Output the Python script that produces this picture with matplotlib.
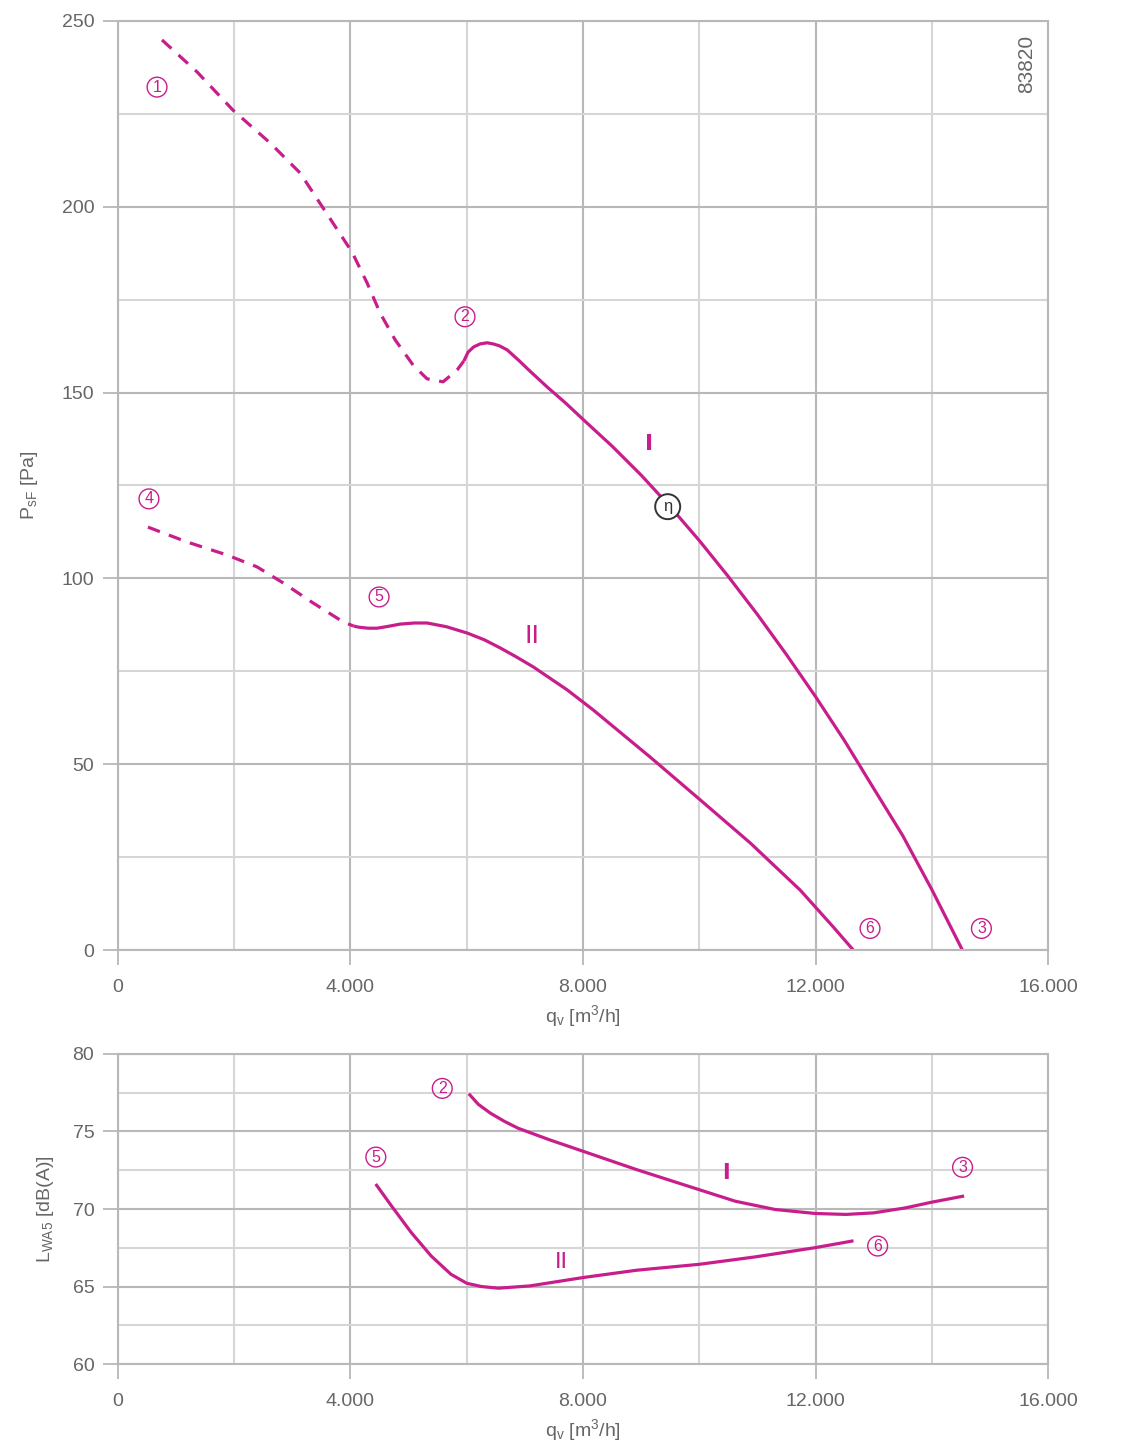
import matplotlib
matplotlib.use("Agg")
import matplotlib.pyplot as plt
from matplotlib.ticker import MultipleLocator, FuncFormatter

plt.rcParams['font.family'] = ['Liberation Sans', 'DejaVu Sans']
plt.rcParams['mathtext.fontset'] = 'custom'
plt.rcParams['mathtext.rm'] = 'Liberation Sans'
plt.rcParams['mathtext.default'] = 'regular'

# --- pressure curves (top chart) ---
p1_dash_q = [757, 1360, 1979, 2616, 3133, 3528, 4027, 4286, 4510, 4768, 5077,
             5318, 5594, 5835, 5950]
p1_dash_p = [244.9, 236.3, 226.0, 217.2, 209.1, 199.7, 187.8, 179.5, 171.4,
             164.2, 157.4, 153.7, 152.9, 156.1, 158.5]
p1_q = [5950, 6024, 6120, 6231, 6350, 6454, 6560, 6695, 6900, 7100, 7384,
        7700, 8000, 8500, 9000, 9500, 10000, 10500, 11000, 11500, 12000,
        12500, 13000, 13500, 14000, 14527]
p1_p = [158.5, 160.9, 162.3, 163.1, 163.4, 163.1, 162.6, 161.5, 158.6, 155.6,
        151.5, 147.2, 142.8, 135.6, 127.8, 119.3, 110.2, 100.5, 90.3, 79.5,
        68.2, 56.3, 43.5, 30.8, 16.3, 0.0]

p2_dash_q = [516, 1188, 1876, 2392, 2840, 3356, 3873, 4050]
p2_dash_p = [113.8, 109.8, 106.3, 103.1, 98.8, 93.4, 88.3, 87.2]
p2_q = [4050, 4131, 4300, 4458, 4650, 4854, 5100, 5318, 5650, 6007, 6300,
        6575, 6850, 7143, 7728, 8176, 9157, 10017, 10878, 11738, 12306, 12650]
p2_p = [87.2, 86.9, 86.6, 86.6, 87.1, 87.7, 88.0, 88.0, 87.0, 85.3, 83.5,
        81.3, 78.9, 76.2, 70.0, 64.6, 51.9, 40.4, 28.8, 16.1, 6.2, 0.0]

# --- sound power curves (bottom chart) ---
l1_q = [6054, 6200, 6408, 6650, 6884, 7427, 8005, 8923, 9996, 10622, 11302,
        12001, 12525, 13000, 13544, 14000, 14530]
l1_db = [77.36, 76.75, 76.18, 75.65, 75.21, 74.46, 73.72, 72.54, 71.25, 70.50,
         69.97, 69.71, 69.65, 69.75, 70.07, 70.44, 70.82]
l2_q = [4450, 4709, 5048, 5388, 5728, 6000, 6250, 6544, 7088, 8005, 8923,
        9996, 10963, 12001, 12627]
l2_db = [71.53, 70.18, 68.47, 66.97, 65.79, 65.21, 65.00, 64.89, 65.04, 65.58,
         66.05, 66.43, 66.91, 67.51, 67.93]

# point labels (circled numbers)
top_marks = ['1', '2', '3', '4', '5', '6']
top_mark_q = [672, 5970, 14854, 533, 4492, 12938]
top_mark_p = [232.2, 170.4, 5.8, 121.4, 95.0, 5.8]
top_curve_names = ['I', 'II']
top_curve_q = [9141, 7126]
top_curve_p = [136.3, 84.5]
eta_q, eta_p = 9457, 119.3

bot_marks = ['2', '3', '5', '6']
bot_mark_q = [5579, 14530, 4436, 13069]
bot_mark_db = [77.78, 72.69, 73.35, 67.61]
bot_curve_names = ['I', 'II']
bot_curve_q = [10452, 7631]
bot_curve_db = [72.3, 66.58]

MAG = '#c81e8c'
GRID_MAJ = '#b8b8b8'
GRID_MIN = '#d6d6d6'
TXT = '#666666'
LW = 2.3
DASH = (0, (4, 3))


def style_axes(ax, ymin, ymax, ymaj, ymin_step):
    ax.set_xlim(0, 16000)
    ax.set_ylim(ymin, ymax)
    ax.xaxis.set_major_locator(MultipleLocator(4000))
    ax.xaxis.set_minor_locator(MultipleLocator(2000))
    ax.yaxis.set_major_locator(MultipleLocator(ymaj))
    ax.yaxis.set_minor_locator(MultipleLocator(ymin_step))
    ax.xaxis.set_major_formatter(
        FuncFormatter(lambda v, p: f"{v:,.0f}".replace(',', '.')))
    ax.grid(which='major', color=GRID_MAJ, lw=1.5)
    ax.grid(which='minor', color=GRID_MIN, lw=1.5)
    ax.set_axisbelow(True)
    for s in ax.spines.values():
        s.set_color(GRID_MAJ)
        s.set_linewidth(1.5)
    ax.tick_params(which='major', length=11, width=1.3, color=GRID_MAJ,
                   labelcolor=TXT, labelsize=14, pad=6)
    ax.tick_params(axis='x', which='major', pad=10)
    ax.tick_params(which='minor', length=0)
    ax.set_xlabel('q$_v$ [m$^3$/h]', color=TXT, fontsize=14, labelpad=5)


def circled(ax, q, v, s, color):
    ax.text(q, v, s, color=color, fontsize=11.5, ha='center', va='center',
            zorder=5,
            bbox=dict(boxstyle='circle,pad=0.15', fc='none', ec=color, lw=1.0))


fig = plt.figure(figsize=(11.42, 14.46), dpi=100)
ax1 = fig.add_axes([0.1033, 0.343, 0.8144, 0.6425])
ax2 = fig.add_axes([0.1033, 0.0567, 0.8144, 0.2144])

# top chart
style_axes(ax1, 0, 250, 50, 25)
ax1.plot(p1_dash_q, p1_dash_p, color=MAG, lw=LW, ls=DASH)
ax1.plot(p1_q, p1_p, color=MAG, lw=LW, solid_capstyle='butt')
ax1.plot(p2_dash_q, p2_dash_p, color=MAG, lw=LW, ls=DASH)
ax1.plot(p2_q, p2_p, color=MAG, lw=LW, solid_capstyle='butt')
for m, q, p in zip(top_marks, top_mark_q, top_mark_p):
    circled(ax1, q, p, m, MAG)
ax1.text(top_curve_q[0], top_curve_p[0], top_curve_names[0], color=MAG,
         fontsize=16, ha='center', va='center', fontweight='bold',
         family=['DejaVu Sans'])
ax1.text(top_curve_q[1], top_curve_p[1], top_curve_names[1], color=MAG,
         fontsize=18, ha='center', va='center', family=['DejaVu Sans'])
ax1.text(eta_q, eta_p, 'η', color='#333333', fontsize=12, ha='center',
         va='center', zorder=5,
         bbox=dict(boxstyle='circle,pad=0.3', fc='white', ec='#333333',
                   lw=1.4))
ax1.text(15630, 238.4, '83820', color=TXT, fontsize=15, rotation=90,
         ha='center', va='center')
ax1.set_ylabel('P$_{sF}$ [Pa]', color=TXT, fontsize=14, labelpad=16)

# bottom chart
style_axes(ax2, 60, 80, 5, 2.5)
ax2.plot(l1_q, l1_db, color=MAG, lw=LW)
ax2.plot(l2_q, l2_db, color=MAG, lw=LW)
for m, q, d in zip(bot_marks, bot_mark_q, bot_mark_db):
    circled(ax2, q, d, m, MAG)
ax2.text(bot_curve_q[0], bot_curve_db[0], bot_curve_names[0], color=MAG,
         fontsize=15, ha='center', va='center', fontweight='bold',
         family=['DejaVu Sans'])
ax2.text(bot_curve_q[1], bot_curve_db[1], bot_curve_names[1], color=MAG,
         fontsize=16, ha='center', va='center', family=['DejaVu Sans'])
ax2.set_ylabel('L$_{WA5}$ [dB(A)]', color=TXT, fontsize=14, labelpad=12)

fig.savefig('out.png', dpi=100, facecolor='white')
